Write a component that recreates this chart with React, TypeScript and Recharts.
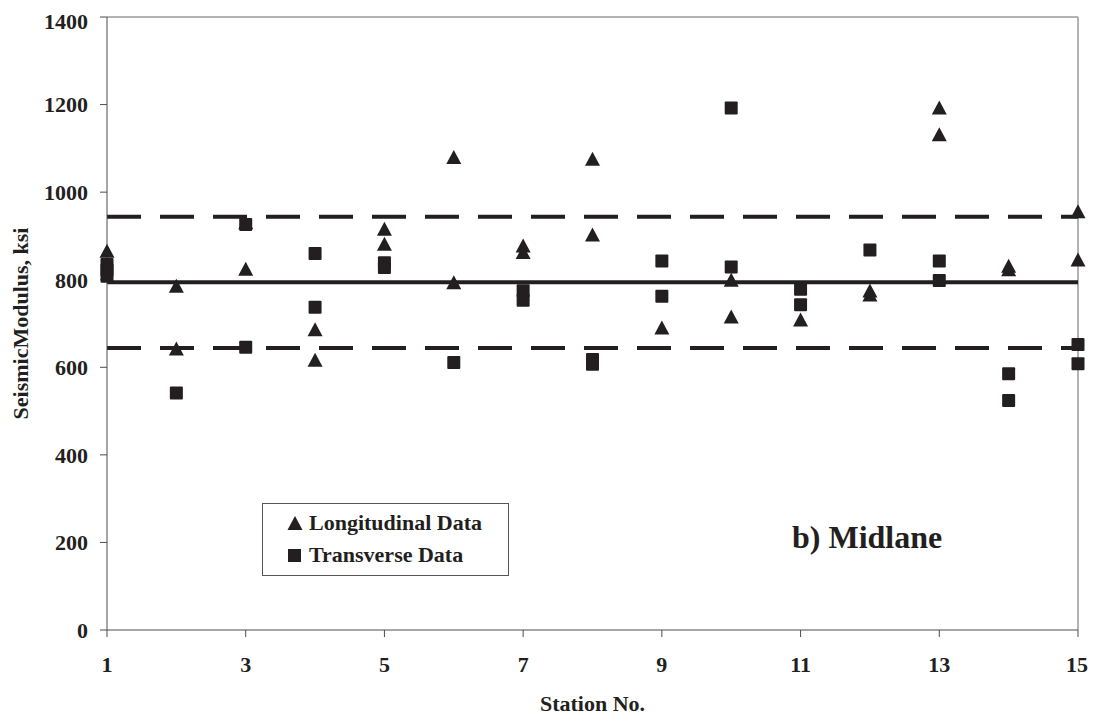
import React from "react";
import {
  ComposedChart,
  Scatter,
  XAxis,
  YAxis,
  ReferenceLine,
  Legend,
} from "recharts";

const longStations = [1, 2, 2, 3, 3, 4, 4, 5, 5, 6, 6, 7, 7, 8, 8, 9, 10, 10, 11, 12, 12, 13, 13, 14, 14, 15, 15];
const longValues = [865, 785, 642, 930, 824, 686, 616, 915, 881, 1079, 793, 877, 862, 1075, 902, 690, 799, 715, 708, 774, 765, 1192, 1131, 831, 823, 955, 845];

const transStations = [1, 1, 1, 2, 3, 3, 4, 4, 5, 5, 6, 7, 7, 8, 8, 9, 9, 10, 10, 11, 11, 12, 13, 13, 14, 14, 15, 15];
const transValues = [835, 822, 808, 541, 926, 646, 860, 737, 839, 828, 611, 775, 753, 618, 607, 843, 762, 1192, 829, 778, 743, 868, 843, 798, 585, 524, 652, 608];

const xTicks = [1, 3, 5, 7, 9, 11, 13, 15];
const yTicks = [0, 200, 400, 600, 800, 1000, 1200, 1400];

const meanValue = 794;
const upperValue = 944;
const lowerValue = 644;

const seriesNames = ["Longitudinal Data", "Transverse Data"];
const xTitle = "Station No.";
const yTitle = "SeismicModulus, ksi";
const panelTitle = "b) Midlane";

const longData = longStations.map((s, i) => ({ x: s, y: longValues[i] }));
const transData = transStations.map((s, i) => ({ x: s, y: transValues[i] }));

const INK = "#231f20";
const FONT = "'Liberation Serif', 'Times New Roman', serif";

const Tri = (p: any) => {
  const { cx, cy } = p;
  if (cx == null || cy == null) return null;
  return (
    <polygon
      points={`${cx},${cy - 7.5} ${cx - 7.5},${cy + 6.5} ${cx + 7.5},${cy + 6.5}`}
      fill={INK}
    />
  );
};

const Sq = (p: any) => {
  const { cx, cy } = p;
  if (cx == null || cy == null) return null;
  return <rect x={cx - 6.5} y={cy - 6.5} width={13} height={13} fill={INK} rx={1} />;
};

const tickStyle = { fontFamily: FONT, fontWeight: 700, fontSize: 22, fill: INK };

const LegendBox = () => (
  <div
    style={{
      width: 245,
      height: 68,
      border: "1px solid #555",
      background: "#fff",
      fontFamily: FONT,
      fontWeight: 700,
      fontSize: 22,
      color: INK,
      paddingTop: 3,
      boxSizing: "content-box",
    }}
  >
    {seriesNames.map((n, i) => (
      <div key={n} style={{ height: 32, lineHeight: "32px", paddingLeft: 24, whiteSpace: "nowrap" }}>
        <svg width={16} height={16} style={{ marginRight: 6, verticalAlign: "-1px" }}>
          {i === 0 ? (
            <polygon points="8,1 0.5,15 15.5,15" fill={INK} />
          ) : (
            <rect x={1} y={2} width={13} height={13} fill={INK} />
          )}
        </svg>
        {n}
      </div>
    ))}
  </div>
);

export default function App() {
  return (
    <div style={{ position: "relative", width: 1080, height: 711 }}>
      <ComposedChart
        width={1080}
        height={711}
        margin={{ top: 9, right: 10, bottom: 0, left: 0 }}
      >
        <XAxis
          dataKey="x"
          type="number"
          domain={[1, 15]}
          ticks={xTicks}
          allowDuplicatedCategory={false}
          stroke="#4d4d4d"
          tickSize={7}
          tickMargin={19}
          tick={tickStyle}
          height={89}
          label={{
            value: xTitle,
            position: "insideBottom",
            offset: 8,
            style: { ...tickStyle, fontSize: 22 },
          }}
        />
        <YAxis
          dataKey="y"
          type="number"
          domain={[0, 1400]}
          ticks={yTicks}
          stroke="#4d4d4d"
          tickSize={7}
          tickMargin={12}
          tick={tickStyle}
          width={99}
          label={{
            value: yTitle,
            angle: -90,
            position: "insideLeft",
            offset: 12,
            style: { ...tickStyle, textAnchor: "middle" },
          }}
        />
        <ReferenceLine x={15} stroke="#9a9a9a" strokeWidth={1.5} />
        <ReferenceLine y={1400} stroke="#9a9a9a" strokeWidth={1.5} />
        <ReferenceLine y={upperValue} stroke={INK} strokeWidth={4} strokeDasharray="34 19" />
        <ReferenceLine y={lowerValue} stroke={INK} strokeWidth={4} strokeDasharray="34 19" />
        <ReferenceLine y={meanValue} stroke={INK} strokeWidth={4} />
        <Scatter
          name={seriesNames[0]}
          data={longData}
          shape={Tri}
          fill={INK}
          isAnimationActive={false}
        />
        <Scatter
          name={seriesNames[1]}
          data={transData}
          shape={Sq}
          fill={INK}
          isAnimationActive={false}
        />
        <Legend
          layout="horizontal"
          verticalAlign="middle"
          align="center"
          content={() => <LegendBox />}
          wrapperStyle={{ left: 254, top: 495, width: 247, height: 72 }}
        />
      </ComposedChart>
      <div
        style={{
          position: "absolute",
          left: 784,
          top: 513,
          fontFamily: FONT,
          fontWeight: 700,
          fontSize: 32,
          lineHeight: "32px",
          color: INK,
          whiteSpace: "nowrap",
        }}
      >
        {panelTitle}
      </div>
    </div>
  );
}
